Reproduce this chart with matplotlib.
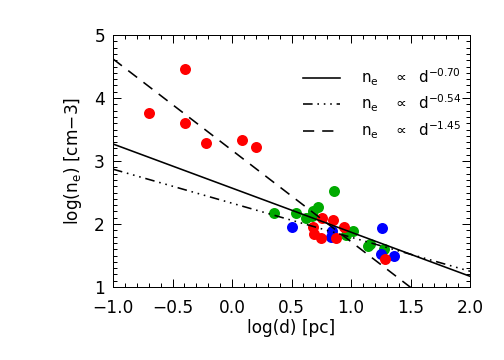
import numpy as np
import matplotlib
matplotlib.use('Agg')
import matplotlib.pyplot as plt
from matplotlib.ticker import MultipleLocator

plt.rcParams['font.family'] = ['DejaVu Sans']
plt.rcParams['mathtext.default'] = 'regular'

# data
red_x = [-0.70, -0.395, -0.395, -0.22, 0.08, 0.20,
         0.76, 0.85, 0.68, 0.69, 0.745, 0.94, 0.87, 1.285]
red_y = [3.76, 4.46, 3.61, 3.29, 3.33, 3.22,
         2.09, 2.06, 1.96, 1.84, 1.78, 1.95, 1.78, 1.45]
green_x = [0.356, 0.54, 0.62, 0.67, 0.68, 0.725, 0.86, 0.96, 1.02, 1.145, 1.16, 1.28]
green_y = [2.18, 2.17, 2.10, 2.12, 2.20, 2.27, 2.53, 1.82, 1.89, 1.65, 1.69, 1.60]
blue_x = [0.50, 0.84, 0.83, 1.26, 1.25, 1.36]
blue_y = [1.95, 1.89, 1.80, 1.93, 1.53, 1.50]

# fits: log(n_e) = a + b*log(d)
fit_a = [2.57, 2.33, 3.17]
fit_b = [-0.70, -0.54, -1.45]
fit_styles = ['-', (0, (6, 3, 1, 3, 1, 3, 1, 3)), (0, (7, 5))]
fit_labels = [r'$n_e\ \ \ \propto\ \ d^{-0.70}$', r'$n_e\ \ \ \propto\ \ d^{-0.54}$',
              r'$n_e\ \ \ \propto\ \ d^{-1.45}$']

fig = plt.figure(figsize=(7, 5), dpi=72)
ax = fig.add_axes([113 / 504, 1 - 287 / 360, 357 / 504, 252 / 360])

ax.plot(green_x, green_y, 'o', color='#00aa00', ms=11, mec='none')
ax.plot(blue_x, blue_y, 'o', color='#0000ff', ms=11, mec='none')
ax.plot(red_x, red_y, 'o', color='#ff0000', ms=11, mec='none')

xx = np.array([-1.0, 2.0])
handles = []
for a, b, ls, lab in zip(fit_a, fit_b, fit_styles, fit_labels):
    h, = ax.plot(xx, a + b * xx, color='black', lw=1.6, linestyle=ls, label=lab)
    handles.append(h)

ax.set_xlim(-1.0, 2.0)
ax.set_ylim(1.0, 5.0)
ax.xaxis.set_major_locator(MultipleLocator(0.5))
ax.xaxis.set_minor_locator(MultipleLocator(0.1))
ax.yaxis.set_major_locator(MultipleLocator(1))
ax.yaxis.set_minor_locator(MultipleLocator(0.1))
ax.xaxis.set_major_formatter(matplotlib.ticker.FuncFormatter(lambda v, p: ('%.1f' % v).replace('-', '\u2212')))
ax.tick_params(which='both', direction='in', top=True, right=True, labelsize=17, color='black')
ax.tick_params(axis='x', which='major', pad=12)
ax.tick_params(axis='y', which='major', pad=8)
ax.tick_params(which='major', length=8, width=1)
ax.tick_params(which='minor', length=4, width=1)
for s in ax.spines.values():
    s.set_linewidth(1)

ax.set_xlabel('log(d) [pc]', fontsize=17, labelpad=2)
ax.set_ylabel(r'log(n$_e$) [cm$-$3]', fontsize=17, labelpad=10)

ax.legend(handles=handles, loc='upper left', bbox_to_anchor=(0.515, 0.90), frameon=False,
          fontsize=15, handlelength=2.5, handletextpad=1.4, labelspacing=0.35, borderaxespad=0)

fig.savefig('out.png', dpi=72)
